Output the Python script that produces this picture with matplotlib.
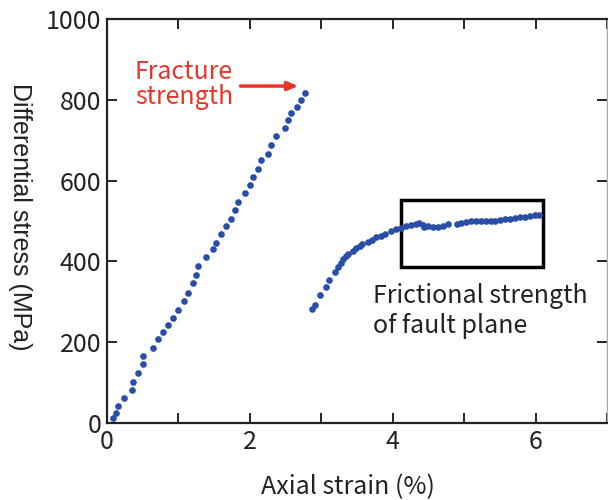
import numpy as np
import matplotlib
matplotlib.use('Agg')
import matplotlib.pyplot as plt
from matplotlib.patches import Rectangle

plt.rcParams['font.family'] = ['Noto Sans CJK JP', 'DejaVu Sans']

############ data ############
# loading up to fracture
strain_pre = [0.08, 0.13, 0.16, 0.24, 0.35, 0.37, 0.44, 0.51, 0.51, 0.64, 0.72, 0.78,
              0.86, 0.93, 0.99, 1.08, 1.13, 1.21, 1.25, 1.28, 1.38, 1.48, 1.53, 1.59,
              1.66, 1.74, 1.79, 1.83, 1.93, 2.00, 2.04, 2.12, 2.15, 2.25, 2.30, 2.36,
              2.49, 2.53, 2.57, 2.66, 2.71, 2.77]
stress_pre = [12, 25, 42, 62, 82, 102, 125, 146, 166, 186, 207, 226,
              242, 260, 279, 303, 323, 346, 366, 389, 410, 430, 446, 469,
              487, 506, 526, 546, 569, 590, 610, 629, 650, 666, 689, 710,
              729, 749, 767, 783, 799, 816]

# sliding on the fault after fracture
strain_post = [2.87, 2.91, 2.98, 3.07, 3.11, 3.19, 3.24, 3.28, 3.31, 3.35, 3.38, 3.44,
               3.49, 3.54, 3.57, 3.65, 3.71, 3.77, 3.83, 3.89, 3.98, 4.05, 4.12, 4.19,
               4.26, 4.32, 4.37, 4.42, 4.44, 4.49, 4.57, 4.63, 4.70, 4.77, 4.90, 4.95,
               5.02, 5.09, 5.16, 5.23, 5.30, 5.37, 5.43, 5.50, 5.57, 5.64, 5.71, 5.78,
               5.85, 5.92, 5.99, 6.05]
stress_post = [283, 293, 316, 337, 355, 374, 387, 397, 406, 413, 418, 426,
               434, 438, 444, 448, 454, 460, 464, 468, 475, 480, 483, 487,
               490, 493, 494, 491, 484, 487, 484, 486, 488, 493, 493, 496,
               498, 499, 499, 499, 499, 499, 499, 502, 505, 505, 507, 509,
               511, 512, 514, 514]

xticks = [0, 1, 2, 3, 4, 5, 6, 7]
xticklabels = ['0', '', '2', '', '4', '', '6', '']
yticks = [0, 200, 400, 600, 800, 1000]

box_x = [4.11, 6.11]
box_y = [386, 552]

dot = '#2a4ea6'
red = '#e8352a'
ink = '#222222'
fs = 18

fig = plt.figure(figsize=(6.08, 5.0), dpi=100)
ax = fig.add_axes([107/608, 77/500, 500/608, 404/500])

ax.plot(strain_pre, stress_pre, 'o', color=dot, markersize=4.8, markeredgewidth=0)
ax.plot(strain_post, stress_post, 'o', color=dot, markersize=4.8, markeredgewidth=0)

ax.add_patch(Rectangle((box_x[0], box_y[0]), box_x[1]-box_x[0], box_y[1]-box_y[0],
                       fill=False, edgecolor='black', linewidth=2.5))

ax.annotate('', xy=(2.68, 834), xytext=(1.87, 834),
            arrowprops=dict(arrowstyle='-|>,head_length=0.6,head_width=0.25',
                            color=red, lw=2.5, shrinkA=0, shrinkB=0))
ax.text(0.39, 852, 'Fracture', color=red, fontsize=fs, ha='left', va='baseline')
ax.text(0.39, 790, 'strength', color=red, fontsize=fs, ha='left', va='baseline')
ax.text(3.72, 297, 'Frictional strength', color=ink, fontsize=fs, ha='left', va='baseline')
ax.text(3.72, 223, 'of fault plane', color=ink, fontsize=fs, ha='left', va='baseline')

ax.set_xlim(0, 7)
ax.set_ylim(0, 1000)
ax.set_xticks(xticks)
ax.set_xticklabels(xticklabels)
ax.set_yticks(yticks)
ax.tick_params(direction='in', top=True, right=True, length=7, width=1.2,
               labelsize=fs, labelcolor=ink, pad=4)

for side in ['left', 'bottom', 'top']:
    ax.spines[side].set_linewidth(1.6)
    ax.spines[side].set_color('#222222')
ax.spines['right'].set_linewidth(1.0)
ax.spines['right'].set_color('#aaaaaa')

fig.text(348/608, 1 - 494/500, 'Axial strain (%)', ha='center', va='baseline',
         fontsize=fs, color=ink)
fig.text(20/608, 1 - 217/500, 'Differential stress (MPa)', rotation=-90,
         ha='center', va='center', fontsize=18, color=ink,
         family=['Liberation Sans', 'DejaVu Sans'])

fig.savefig('out.png', dpi=100)
